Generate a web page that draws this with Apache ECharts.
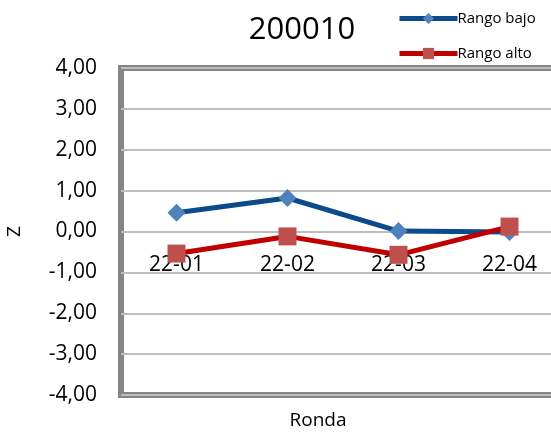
<!DOCTYPE html>
<html><head><meta charset="utf-8">
<script src="https://cdn.jsdelivr.net/npm/echarts@6/dist/echarts.min.js"></script>
<style>html,body{margin:0;padding:0;background:#fff}#c{width:551px;height:433px}</style>
</head><body><div id="c"></div>
<script>
var categories = ['22-01', '22-02', '22-03', '22-04'];
var rangoBajo = [0.46, 0.82, 0.01, -0.01];
var rangoAlto = [-0.54, -0.12, -0.57, 0.12];
var yTicks = { min: -4, max: 4, interval: 1 };
var FONT = 'Open Sans';
var chart = echarts.init(document.getElementById('c'));
chart.setOption({
  animation: false,
  textStyle: { fontFamily: FONT },
  title: [
    { text: '200010', left: 297, top: 10, textAlign: 'center',
      textStyle: { fontFamily: FONT, fontSize: 31, fontWeight: 'normal', color: '#000' } },
    { text: 'Ronda', left: 313, top: 406, textAlign: 'center',
      textStyle: { fontFamily: FONT, fontSize: 19, fontWeight: 'normal', color: '#000' } }
  ],
  legend: {
    orient: 'vertical', left: 392, top: 6, itemGap: 20,
    itemWidth: 58, itemHeight: 14,
    lineStyle: { width: 5 },
    textStyle: { fontFamily: FONT, fontSize: 15, color: '#000', padding: [0, 0, 0, -5] },
    data: ['Rango bajo', 'Rango alto']
  },
  grid: { left: 121, top: 68, width: 444, height: 327, outerBoundsMode: 'none', containLabel: false,
    show: true, borderColor: '#858585', borderWidth: 6, backgroundColor: '#fff' },
  xAxis: {
    type: 'category', data: categories,
    axisLine: { show: false, onZero: false },
    axisTick: { show: false },
    axisLabel: { fontFamily: FONT, fontSize: 21, color: '#000', margin: 23 }
  },
  yAxis: {
    type: 'value', min: yTicks.min, max: yTicks.max, interval: yTicks.interval,
    name: 'Z', nameLocation: 'middle', nameRotate: 90, nameGap: 97,
    nameTextStyle: { fontFamily: FONT, fontSize: 19, color: '#000' },
    axisLine: { show: false }, axisTick: { show: false },
    axisLabel: { fontFamily: FONT, fontSize: 21, color: '#000', margin: 24,
      formatter: function (v) { return v.toFixed(2).replace('.', ','); } },
    splitLine: { lineStyle: { color: '#bdbdbd', width: 2 } }
  },
  series: [
    { name: 'Rango bajo', type: 'line', data: rangoBajo,
      symbol: 'diamond', symbolSize: 18,
      lineStyle: { color: '#0b4a8b', width: 5 },
      itemStyle: { color: '#4f81bd' } },
    { name: 'Rango alto', type: 'line', data: rangoAlto,
      symbol: 'rect', symbolSize: 18,
      lineStyle: { color: '#c00000', width: 5 },
      itemStyle: { color: '#c0504d' } }
  ]
});
// place the category labels on the zero line (as the reference does)
var yZero = chart.convertToPixel({ yAxisIndex: 0 }, 0);
var yBottom = chart.convertToPixel({ yAxisIndex: 0 }, yTicks.min);
chart.setOption({ xAxis: { offset: -(yBottom - yZero) } });
</script></body></html>
